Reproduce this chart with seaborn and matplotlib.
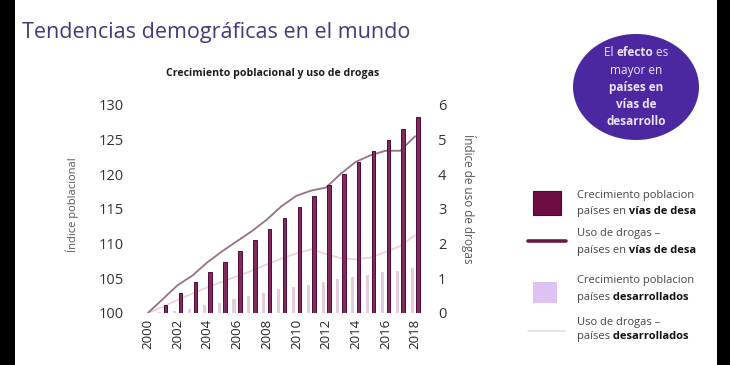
import numpy as np
import pandas as pd
import matplotlib
matplotlib.use("Agg")
import matplotlib.pyplot as plt
import seaborn as sns
from matplotlib.patches import Rectangle, Ellipse
from matplotlib.lines import Line2D

# ---------------- data ----------------
years = list(range(2000, 2019))
pop_developing = [100.0, 101.1, 102.9, 104.4, 105.9, 107.4, 109.0, 110.6, 112.1, 113.7,
                  115.3, 116.9, 118.5, 120.1, 121.8, 123.4, 125.0, 126.6, 128.2]
pop_developed = [100.0, 100.1, 100.3, 100.6, 101.2, 101.5, 102.0, 102.4, 102.9, 103.4,
                 103.75, 104.1, 104.4, 104.9, 105.2, 105.5, 105.9, 106.1, 106.5]
drugs_developing = [0.0, 0.40, 0.80, 1.08, 1.46, 1.78, 2.07, 2.36, 2.69, 3.08,
                    3.38, 3.53, 3.62, 4.02, 4.36, 4.55, 4.68, 4.68, 5.10]
drugs_developed = [0.0, 0.18, 0.38, 0.56, 0.74, 0.90, 1.06, 1.22, 1.40, 1.57,
                   1.72, 1.84, 1.70, 1.58, 1.55, 1.60, 1.76, 1.93, 2.25]

title = "Tendencias demográficas en el mundo"
subtitle = "Crecimiento poblacional y uso de drogas"
ylabel_left = "Índice poblacional"
ylabel_right = "Índice de uso de drogas"

g_dev = "desarrollados"
g_ing = "en vías de desarrollo"

# ---------------- style ----------------
sns.set_style("white")
plt.rcParams["font.family"] = ["Open Sans", "DejaVu Sans"]

W, H = 730, 365
fig = plt.figure(figsize=(W / 100, H / 100), dpi=100)
fig.patch.set_facecolor("white")

def fx(x):
    return x / W

def fy(y):
    return 1 - y / H

# main axes: x 136..427 px, y 105..313 px
ax = fig.add_axes([fx(136), fy(313), (427 - 136) / W, (313 - 105) / H])

bars = pd.DataFrame({
    "year": years * 2,
    "value": pop_developed + pop_developing,
    "group": [g_dev] * len(years) + [g_ing] * len(years),
})
lines = pd.DataFrame({
    "year": years * 2,
    "value": drugs_developed + drugs_developing,
    "group": [g_dev] * len(years) + [g_ing] * len(years),
})

bar_light = "#e8c8e4"
bar_dark = "#8a1f5e"
bar_dark_edge = "#52093a"
line_dark = "#957088"
line_light = "#f3cde0"

sns.barplot(data=bars, x="year", y="value", hue="group", hue_order=[g_dev, g_ing],
            palette={g_dev: bar_light, g_ing: bar_dark}, native_scale=True,
            width=0.8, dodge=True, legend=False, ax=ax, errorbar=None)

# narrow the bars to leave a small gap between the pair
for p in ax.patches:
    w = p.get_width()
    cx = p.get_x() + w / 2
    fc = p.get_facecolor()
    is_dark = fc[0] < 0.7
    nw = 0.24 if is_dark else 0.21
    p.set_x(cx - nw / 2)
    p.set_width(nw)
    if is_dark:
        p.set_edgecolor(bar_dark_edge)
        p.set_linewidth(0.7)
    else:
        p.set_edgecolor("none")

ax.set_ylim(100, 130)
ax.set_xlim(1999.2, 2018.8)
ax.set_yticks(range(100, 131, 5))
ax.set_xticks(range(2000, 2019, 2))
ax.set_xticklabels([str(y) for y in range(2000, 2019, 2)], rotation=90,
                   fontsize=9.5, color="#222")
ax.tick_params(axis="y", labelsize=10.5, colors="#333", pad=9, length=0)
ax.tick_params(axis="x", pad=4, length=0)
ax.set_xlabel("")
ax.set_ylabel(ylabel_left, fontsize=8, color="#555")
ax.yaxis.set_label_coords(-0.195, 0.52)
for s in ax.spines.values():
    s.set_visible(False)

ax2 = ax.twinx()
sns.lineplot(data=lines, x="year", y="value", hue="group", hue_order=[g_dev, g_ing],
             palette={g_dev: line_light, g_ing: line_dark}, legend=False, ax=ax2,
             linewidth=1.3)
ax2.set_ylim(0, 6)
ax2.set_yticks(range(0, 7))
ax2.tick_params(axis="y", labelsize=10.5, colors="#333", pad=8, length=0)
ax2.set_ylabel(ylabel_right, fontsize=8.5, color="#555", rotation=270)
ax2.yaxis.set_label_coords(1.17, 0.55)
for s in ax2.spines.values():
    s.set_visible(False)
ax2.set_xlim(1999.2, 2018.8)

# bars drawn above the lines
ax.set_zorder(ax2.get_zorder() + 1)
ax.patch.set_visible(False)

# ---------------- overlay in pixel coordinates ----------------
ov = fig.add_axes([0, 0, 1, 1])
ov.set_xlim(0, W)
ov.set_ylim(H, 0)
ov.axis("off")
ov.patch.set_visible(False)
ov.set_zorder(10)

fig.canvas.draw()
renderer = fig.canvas.get_renderer()

def rich(x, y, parts, ha="left", size=8.5, va="baseline"):
    texts = []
    for txt, weight, color in parts:
        t = ov.text(0, y, txt, fontsize=size, fontweight=weight, color=color, va=va, ha="left")
        texts.append(t)
    widths = [t.get_window_extent(renderer).width for t in texts]
    total = sum(widths)
    if ha == "center":
        start = x - total / 2
    else:
        start = x
    cur = start
    for t, w in zip(texts, widths):
        t.set_x(cur)
        cur += w
    return texts

ov.text(22, 38, title, fontsize=15.5, color="#4a3680", va="baseline", ha="left")
ov.text(273, 76, subtitle, fontsize=7.6, fontweight="bold", color="#1a1a1a",
        ha="center", va="baseline")

# circle callout
ov.add_patch(Ellipse((636, 87), 126, 106, facecolor="#4b28a0", edgecolor="none"))
ctext = "#ece4fb"
rich(636, 56, [("El ", "normal", ctext), ("efecto", "bold", ctext), (" es", "normal", ctext)],
     ha="center", size=8.5)
rich(636, 74, [("mayor en", "normal", ctext)], ha="center", size=8.5)
rich(636, 91, [("países en", "bold", ctext)], ha="center", size=8.5)
rich(636, 108, [("vías de", "bold", ctext)], ha="center", size=8.5)
rich(636, 125, [("desarrollo", "bold", ctext)], ha="center", size=8.5)

# legend
gray = "#444444"
blk = "#111111"
ov.add_patch(Rectangle((533, 191), 28, 24, facecolor="#6c0d45", edgecolor="#4a0a30", lw=0.8))
rich(577, 198, [("Crecimiento poblacion", "normal", gray)], size=8)
rich(577, 214, [("países en", "normal", gray), (" vías de desa", "bold", blk)], size=8)

ov.add_line(Line2D([528, 566], [241, 241], color="#6a1a40", lw=2.6))
rich(577, 236, [("Uso de drogas –", "normal", gray)], size=8)
rich(577, 253, [("países en", "normal", gray), (" vías de desa", "bold", blk)], size=8)

ov.add_patch(Rectangle((533, 282), 24, 21, facecolor="#dec3f2", edgecolor="none"))
rich(577, 283, [("Crecimiento poblacion", "normal", gray)], size=8)
rich(577, 300, [("países", "normal", gray), (" desarrollados", "bold", blk)], size=8)

ov.add_line(Line2D([528, 565], [331, 331], color="#e8dbe3", lw=1.2))
rich(577, 325, [("Uso de drogas –", "normal", gray)], size=8)
rich(577, 339, [("países", "normal", gray), (" desarrollados", "bold", blk)], size=8)

# black screen borders
ov.add_patch(Rectangle((0, 0), 15, H, facecolor="black", edgecolor="none", zorder=20))
ov.add_patch(Rectangle((717, 0), 13, H, facecolor="black", edgecolor="none", zorder=20))

fig.savefig("out.png", dpi=100)
